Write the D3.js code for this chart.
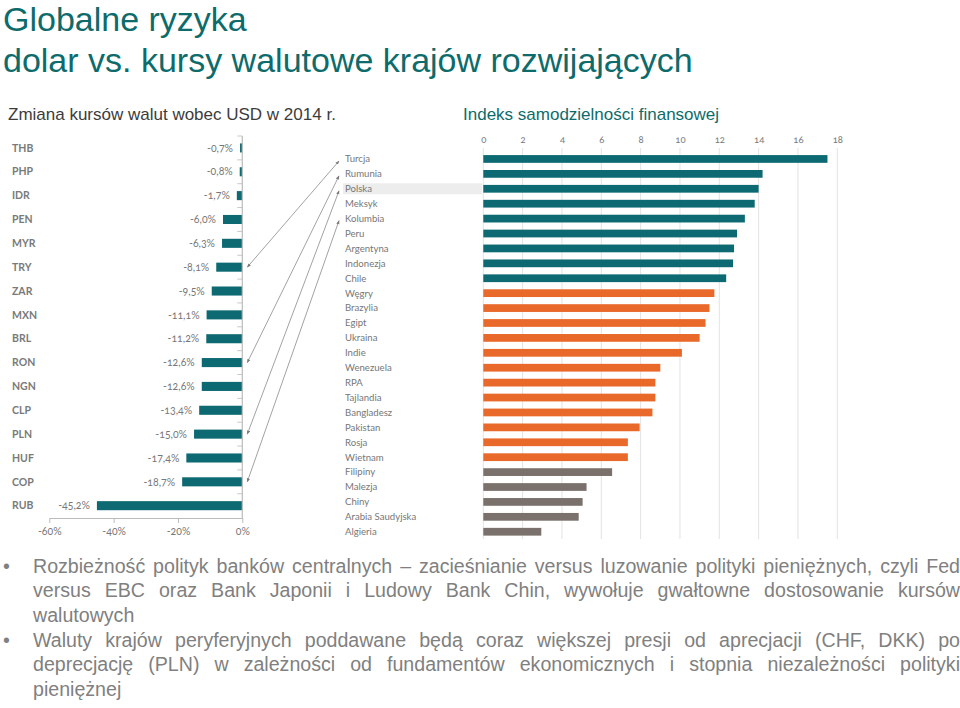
<!DOCTYPE html>
<html><head><meta charset="utf-8">
<script src="https://cdn.jsdelivr.net/npm/d3@7"></script>
<style>body{margin:0;background:#fff} svg{display:block}</style>
</head><body><svg id="c" width="960" height="708"></svg>
<script>
const titleLines = ["Globalne ryzyka", "dolar vs. kursy walutowe krajów rozwijających"];
const leftTitle = "Zmiana kursów walut wobec USD w 2014 r.";
const rightTitle = "Indeks samodzielności finansowej";

const currencies = ["THB","PHP","IDR","PEN","MYR","TRY","ZAR","MXN","BRL","RON","NGN","CLP","PLN","HUF","COP","RUB"];
const changes = [-0.7,-0.8,-1.7,-6.0,-6.3,-8.1,-9.5,-11.1,-11.2,-12.6,-12.6,-13.4,-15.0,-17.4,-18.7,-45.2];
const changeTicks = [-60,-40,-20,0];

const countries = ["Turcja","Rumunia","Polska","Meksyk","Kolumbia","Peru","Argentyna","Indonezja","Chile",
  "Węgry","Brazylia","Egipt","Ukraina","Indie","Wenezuela","RPA","Tajlandia","Bangladesz","Pakistan","Rosja","Wietnam",
  "Filipiny","Malezja","Chiny","Arabia Saudyjska","Algieria"];
const indexValues = [17.5,14.2,14.0,13.8,13.3,12.9,12.75,12.7,12.35,
  11.75,11.5,11.3,11.0,10.1,9.0,8.75,8.75,8.6,7.95,7.35,7.35,
  6.55,5.25,5.05,4.85,2.95];
const tiers = ["a","a","a","a","a","a","a","a","a",
  "b","b","b","b","b","b","b","b","b","b","b","b",
  "c","c","c","c","c"];
const indexTicks = [0,2,4,6,8,10,12,14,16,18];
const links = [["TRY","Turcja"],["RON","Rumunia"],["PLN","Polska"],["COP","Kolumbia"]];
const highlighted = "Polska";

const bullets = [
  ["Rozbieżność polityk banków centralnych – zacieśnianie versus luzowanie polityki pieniężnych, czyli Fed",
   "versus EBC oraz Bank Japonii i Ludowy Bank Chin, wywołuje gwałtowne dostosowanie kursów",
   "walutowych"],
  ["Waluty krajów peryferyjnych poddawane będą coraz większej presji od aprecjacji (CHF, DKK) po",
   "deprecjację (PLN) w zależności od fundamentów ekonomicznych i stopnia niezależności polityki",
   "pieniężnej"]
];

const tierColor = d3.scaleOrdinal().domain(["a","b","c"]).range(["#0d6a72","#e8692a","#7a716c"]);
const teal = "#0e6b6b";
const svg = d3.select("#c");
const sansUI = "'Liberation Sans', Arial, sans-serif";
const chartFont = "Lato, 'Open Sans', sans-serif";

// titles
svg.selectAll("text.title").data(titleLines).join("text")
  .attr("class","title").attr("x",3).attr("y",(d,i)=>31+i*41)
  .attr("font-family",sansUI).attr("font-size",34).attr("fill",teal).text(d=>d);
svg.append("text").attr("x",8).attr("y",120).attr("font-family",sansUI).attr("font-size",17)
  .attr("fill","#3c3c3c").text(leftTitle);
svg.append("text").attr("x",463).attr("y",120).attr("font-family",sansUI).attr("font-size",17)
  .attr("fill",teal).text(rightTitle);

// ---- left chart
const xL = d3.scaleLinear().domain([-60,0]).range([49.3,242.3]);
const yL = d3.scaleBand().domain(currencies).range([136,517.6]).paddingInner(0.62).paddingOuter(0.31);
const gL = svg.append("g");
const bounds = d3.range(currencies.length).map(i => 136 + i*yL.step());
gL.selectAll("line.bt").data(bounds).join("line").attr("class","bt")
  .attr("x1",xL(0)-5).attr("x2",xL(0)).attr("y1",d=>d).attr("y2",d=>d)
  .attr("stroke","#c8c8c8").attr("stroke-width",1);
gL.selectAll("rect").data(currencies).join("rect")
  .attr("x",(d,i)=>xL(changes[i])).attr("y",d=>yL(d))
  .attr("width",(d,i)=>xL(0)-xL(changes[i])).attr("height",yL.bandwidth())
  .attr("fill","#0d6a72");
gL.selectAll("text.cat").data(currencies).join("text").attr("class","cat")
  .attr("x",12).attr("y",d=>yL(d)+yL.bandwidth()/2).attr("dy","0.35em")
  .attr("font-family",chartFont).attr("font-size",10.5).attr("font-weight","bold")
  .attr("fill","#7a7a7a").text(d=>d);
gL.selectAll("text.val").data(currencies).join("text").attr("class","val")
  .attr("x",(d,i)=>xL(changes[i])-7).attr("y",d=>yL(d)+yL.bandwidth()/2).attr("dy","0.35em")
  .attr("text-anchor","end").attr("font-family",chartFont).attr("font-size",10.5)
  .attr("fill","#777").style("font-variant-numeric","oldstyle-nums")
  .text((d,i)=>changes[i].toFixed(1).replace(".",",")+"%");
gL.append("line").attr("x1",xL(0)).attr("x2",xL(0)).attr("y1",136).attr("y2",518)
  .attr("stroke","#bbb").attr("stroke-width",1.2);
const axB = gL.append("g").attr("transform","translate(0,518)")
  .call(d3.axisBottom(xL).tickValues(changeTicks).tickSize(5).tickSizeOuter(0).tickFormat(d=>d+"%"));
axB.select(".domain").attr("stroke","#bbb");
axB.selectAll(".tick line").attr("stroke","#bbb");
axB.selectAll(".tick text").attr("font-family",chartFont).attr("font-size",10.5).attr("fill","#777")
  .attr("dy","0.9em").style("font-variant-numeric","oldstyle-nums");

// ---- right chart
const xR = d3.scaleLinear().domain([0,18]).range([483.3,837.3]);
const yR = d3.scaleBand().domain(countries).range([151.5,539.2]).paddingInner(0.48).paddingOuter(0.24);
const gR = svg.append("g");
gR.append("rect").attr("x",343).attr("width",139)
  .attr("y",yR(highlighted)+yR.bandwidth()/2-5.5).attr("height",11).attr("fill","#ededed");
gR.selectAll("line.grid").data(indexTicks).join("line").attr("class","grid")
  .attr("x1",d=>xR(d)).attr("x2",d=>xR(d)).attr("y1",148).attr("y2",539)
  .attr("stroke","#e3e3e3").attr("stroke-width",1);
const axT = gR.append("g").attr("transform","translate(0,143.5)")
  .call(d3.axisTop(xR).tickValues(indexTicks).tickSize(0).tickPadding(0));
axT.select(".domain").remove();
axT.selectAll(".tick text").attr("font-family",chartFont).attr("font-size",9.5).attr("fill","#777")
  .attr("dy","-0.1em").style("font-variant-numeric","oldstyle-nums");
gR.selectAll("rect.bar").data(countries).join("rect").attr("class","bar")
  .attr("x",xR(0)).attr("y",d=>yR(d))
  .attr("width",(d,i)=>xR(indexValues[i])-xR(0)).attr("height",yR.bandwidth())
  .attr("fill",(d,i)=>tierColor(tiers[i]));
gR.selectAll("text.lab").data(countries).join("text").attr("class","lab")
  .attr("x",345).attr("y",d=>yR(d)+yR.bandwidth()/2).attr("dy","0.35em")
  .attr("font-family",chartFont).attr("font-size",9.6).attr("fill","#777").text(d=>d);

// ---- connecting arrows
const defs = svg.append("defs");
defs.append("marker").attr("id","ah").attr("viewBox","0 0 10 10").attr("refX",9).attr("refY",5)
  .attr("markerWidth",5).attr("markerHeight",5).attr("orient","auto-start-reverse")
  .append("path").attr("d","M0,1L10,5L0,9Z").attr("fill","#7a7a7a");
svg.append("g").selectAll("line").data(links).join("line")
  .attr("x1",xL(0)+5).attr("y1",d=>yL(d[0])+yL.bandwidth()/2)
  .attr("x2",339).attr("y2",d=>yR(d[1])+yR.bandwidth()/2+2)
  .attr("stroke","#8a8a8a").attr("stroke-width",0.8)
  .attr("marker-start","url(#ah)").attr("marker-end","url(#ah)");

// ---- bullets (justified)
const bFont = 19.6, lineH = 24.3, left = 33, right = 960;
const starts = [573, 647];
bullets.forEach((lines, bi) => {
  svg.append("text").attr("x",3).attr("y",starts[bi]).attr("font-family",sansUI)
    .attr("font-size",bFont).attr("fill","#808080").text("•");
  lines.forEach((line, li) => {
    const y = starts[bi] + li*lineH;
    const words = line.split(" ");
    const t = svg.append("text").attr("y",y).attr("font-family",sansUI)
      .attr("font-size",bFont).attr("fill","#808080");
    const spans = words.map(w => t.append("tspan").text(w));
    const widths = spans.map(s => s.node().getComputedTextLength());
    const total = d3.sum(widths);
    const last = li === lines.length-1;
    const gap = last ? bFont*0.278 : (right-left-total)/Math.max(1,words.length-1);
    let x = left;
    spans.forEach((s,k) => { s.attr("x",x); x += widths[k] + gap; });
  });
});
</script></body></html>
